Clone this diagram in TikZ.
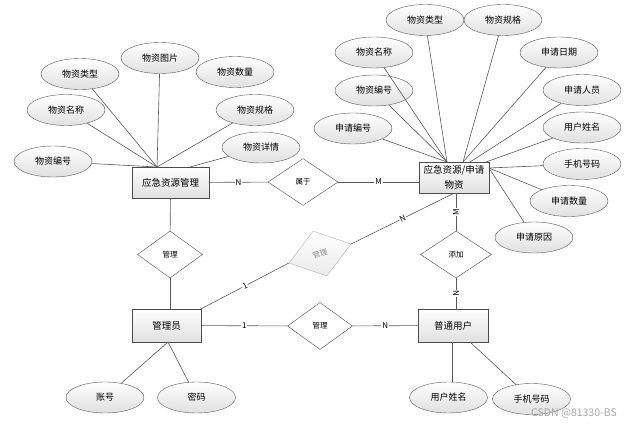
\documentclass[tikz,border=0pt]{standalone}
\usepackage{fontspec}
\setmainfont{Noto Sans CJK SC}
\usetikzlibrary{shapes.geometric}
\begin{document}
\begin{tikzpicture}[x=1pt, y=-1pt,
    attr/.style={ellipse, draw=black!65, top color=white, bottom color=black!12, minimum width=78, minimum height=31, inner sep=0pt, font=\fontsize{9}{10}\selectfont},
    ent/.style={rectangle, draw=black!70, top color=white, bottom color=black!12, minimum width=70, minimum height=31, inner sep=0pt, align=center, font=\fontsize{9.5}{15}\selectfont},
    rel/.style={diamond, draw=black!70, fill=white, minimum width=65, minimum height=47, inner sep=0pt, font=\fontsize{7.5}{8}\selectfont},
    link/.style={draw=black!65, line width=0.6pt},
    card/.style={fill=white, inner sep=0.8pt, font=\fontsize{8}{9}\selectfont}]
    \useasboundingbox (0,0) rectangle (629,425);

    \node[ent, minimum width=77] (res) at (170.5,182.5) {应急资源管理};
    \node[ent] (app) at (454,177.5) {应急资源/申请\\物资};
    \node[ent, minimum width=69, minimum height=33] (adm) at (166.5,325.5) {管理员};
    \node[ent, minimum height=33] (usr) at (453,325.5) {普通用户};

    \node[rel, minimum width=70] (belong) at (303,182) {属于};
    \node[rel] (mng) at (170,254.5) {管理};
    \node[rel, minimum width=71] (add) at (456,254.5) {添加};
    \node[rel] (mngu) at (320,326) {管理};
    \node[rel, draw=black!30, fill=none, top color=white, bottom color=black!8, text=black!45, rotate=17] (mngr) at (320,253.5) {管理};

    \draw[link] (res) -- (belong) node[card, midway] {N};
    \draw[link] (belong.east) -- (belong.east -| app.west) node[card, midway] {M};
    \draw[link] (res) -- (mng);
    \draw[link] (mng.south) -- (mng.south |- adm.north);
    \draw[link] (adm) -- (mngu) node[card, midway] {1};
    \draw[link] (mngu) -- (usr) node[card, midway] {N};
    \draw[link] (add.north) -- (add.north |- app.south) node[card, midway, sloped] {M};
    \draw[link] (add.south) -- (add.south |- usr.north) node[card, midway, sloped] {N};
    \draw[link] (adm.north east) -- (mngr.west) node[card, midway, sloped] {1};
    \draw[link] (mngr.east) -- (app.south) node[card, midway, sloped] {N};

    \node[attr] (lt) at (80,74) {物资类型};
    \node[attr] (lp) at (160,58) {物资图片};
    \node[attr] (lq) at (235,72) {物资数量};
    \node[attr] (ln) at (66,110) {物资名称};
    \node[attr] (ls) at (255,110) {物资规格};
    \node[attr] (li) at (53,161.5) {物资编号};
    \node[attr] (ld) at (261,147.5) {物资详情};
    \coordinate (reshub) at (157,167);
    \coordinate (reshub2) at (190,167);
    \draw[link] (li) -- (reshub);
    \draw[link] (ln) -- (reshub);
    \draw[link] (lt) -- (reshub);
    \draw[link] (lp) -- (reshub);
    \draw[link] (ls) -- (reshub);
    \draw[link] (ld) -- (reshub2);

    \node[attr] (rt) at (425,20) {物资类型};
    \node[attr] (rs) at (503,20) {物资规格};
    \node[attr] (rn) at (374,52.5) {物资名称};
    \node[attr] (rd) at (559,52.5) {申请日期};
    \node[attr] (ri) at (374,90.5) {物资编号};
    \node[attr] (rp) at (582,90) {申请人员};
    \node[attr] (rc) at (353,128.5) {申请编号};
    \node[attr] (ru) at (582,127.5) {用户姓名};
    \node[attr] (rm) at (582,164) {手机号码};
    \node[attr] (rq) at (569,201) {申请数量};
    \node[attr] (rr) at (534,237.5) {申请原因};
    \coordinate (apphub) at (447,162);
    \coordinate (apphub2) at (463,162);
    \coordinate (apphub3) at (470,162);
    \coordinate (apphub4) at (486,162);
    \coordinate (apphub5) at (489,168);
    \draw[link] (rc) -- (apphub);
    \draw[link] (ri) -- (apphub);
    \draw[link] (rn) -- (apphub);
    \draw[link] (rt) -- (apphub);
    \draw[link] (rs) -- (apphub2);
    \draw[link] (rd) -- (apphub2);
    \draw[link] (rp) -- (apphub3);
    \draw[link] (ru) -- (apphub4);
    \draw[link] (rm) -- (apphub5);
    \draw[link] (rq) -- (apphub5);
    \draw[link] (rr) -- (apphub5);

    \node[attr] (acc) at (105,397.5) {账号};
    \node[attr] (pwd) at (196.5,397.5) {密码};
    \node[attr] (uname) at (448.5,397.5) {用户姓名};
    \node[attr] (uphone) at (531.5,399) {手机号码};
    \coordinate (admhub) at (168,342);
    \coordinate (usrhub) at (452,342);
    \coordinate (usrhub2) at (470,342);
    \draw[link] (acc) -- (admhub);
    \draw[link] (pwd) -- (admhub);
    \draw[link] (uname.north -| usrhub) -- (usrhub);
    \draw[link] (uphone) -- (usrhub2);

    \node[text=black!35, font=\fontsize{10.5}{11}\selectfont] (mark) at (574,413) {CSDN @81330-BS};
\end{tikzpicture}
\end{document}
